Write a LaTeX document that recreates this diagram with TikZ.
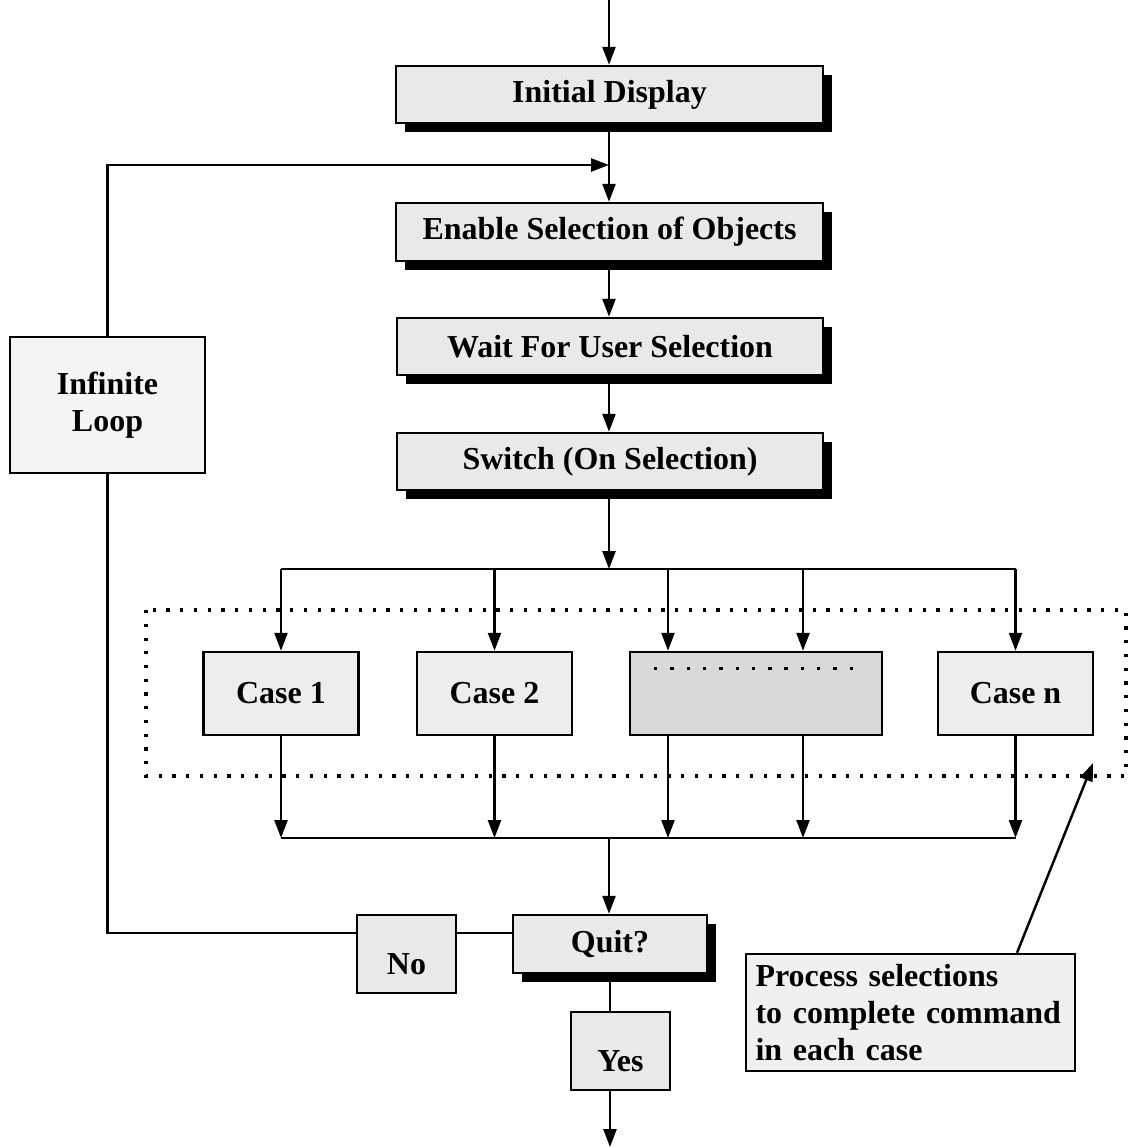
\documentclass[tikz,border=0pt]{standalone}
\usepackage{fontspec}
\setmainfont{Liberation Serif}
\usetikzlibrary{arrows.meta,shadows}

\begin{document}
\begin{tikzpicture}[x=0.02cm, y=-0.02cm,
  line width=1.4pt,
  txt/.style={font=\fontsize{18.2}{21.2}\selectfont\bfseries},
  box/.style={draw, line width=1.4pt, fill=gray!17, inner sep=0pt, align=center, txt},
  shbox/.style={box, drop shadow={shadow xshift=0.18cm, shadow yshift=-0.18cm, fill=black, opacity=1}},
  casebox/.style={box, fill=gray!14, minimum width=3.1cm, minimum height=1.66cm},
  arr/.style={-{Triangle[length=0.36cm, width=0.26cm]}},
  dotline/.style={line width=0.065cm, dash pattern=on 0.065cm off 0.21cm}
]
\useasboundingbox (0,0) rectangle (1129,1148);

% main column
\node[shbox, minimum width=8.54cm, minimum height=1.14cm] (init)   at (609.5,94.5) {Initial Display};
\node[shbox, minimum width=8.54cm, minimum height=1.16cm] (enable) at (609.5,232)  {Enable Selection of Objects};
\node[shbox, minimum width=8.52cm, minimum height=1.14cm] (wait)   at (610,346.5)  {Wait For User Selection};
\node[shbox, minimum width=8.52cm, minimum height=1.14cm] (switch) at (610,461.5)  {Switch (On Selection)};

% loop label
\node[box, fill=gray!9, minimum width=3.9cm, minimum height=2.72cm] (loop) at (107.5,405) {Infinite\\Loop};

% selection cases
\node[casebox] (case1) at (281,693.5)   {Case 1};
\node[casebox] (case2) at (494.5,693.5) {Case 2};
\node[casebox, fill=gray!30, minimum width=5.04cm] (more) at (756,693.5) {};
\node[casebox] (casen) at (1015.5,693.5) {Case n};
\foreach \i in {0,...,12}
  \fill (654+\i*16.3,667) rectangle ++(3.4,3.4);

% region holding the cases
\draw[dotline] (146,610) rectangle (1126,776);

% quit decision
\node[shbox, minimum width=3.88cm, minimum height=1.16cm] (quit) at (610,944) {Quit?};
\node[box, minimum width=1.98cm, minimum height=1.56cm] (no)  at (406.5,954) {\raisebox{-0.2cm}[\height][\depth]{No}};
\node[box, minimum width=1.98cm, minimum height=1.56cm] (yes) at (620.5,1051) {\raisebox{-0.2cm}[\height][\depth]{Yes}};

% note
\node[box, fill=gray!12, minimum width=6.58cm, minimum height=2.34cm, align=left, text width=6.2cm] (note) at (910.5,1012.5)
  {Process selections\\to complete command\\in each case};

% junction points
\coordinate (entry) at (609,0);
\coordinate (back)  at (609,165);
\coordinate (split) at (609,569);
\coordinate (merge) at (609,838);
\coordinate (exit)  at (610,1147);
\coordinate (tipnote) at (1093,763);

% flow
\draw[arr] (entry) -- (init.north -| entry);
\draw[arr] (init.south -| entry) -- (enable.north -| entry);
\draw[arr] (enable.south -| entry) -- (wait.north -| entry);
\draw[arr] (wait.south -| entry) -- (switch.north -| entry);
\draw[arr] (switch.south -| entry) -- (split);

% loop back
\draw[arr] (loop.north) -- (loop.north |- back) -- (back);

% fan out
\draw (split -| case1) -- (split -| casen);
\draw[arr] (split -| case1) -- (case1.north);
\draw[arr] (split -| case2) -- (case2.north);
\draw[arr] (split -| 668,0) -- (668,0 |- more.north);
\draw[arr] (split -| 803,0) -- (803,0 |- more.north);
\draw[arr] (split -| casen) -- (casen.north);

% fan in
\draw[arr] (case1.south) -- (merge -| case1);
\draw[arr] (case2.south) -- (merge -| case2);
\draw[arr] (668,0 |- more.south) -- (merge -| 668,0);
\draw[arr] (803,0 |- more.south) -- (merge -| 803,0);
\draw[arr] (casen.south) -- (merge -| casen);
\draw (merge -| case1) -- (merge -| casen);
\draw[arr] (merge) -- (quit.north -| merge);

% quit branches
\draw (quit.west |- 0,933) -- (no.east |- 0,933);
\draw (no.west |- 0,933) -- (loop.south |- 0,933) -- (loop.south);
\draw (quit.south -| exit) -- (yes.north -| exit);
\draw[arr] (yes.south -| exit) -- (exit);

% note pointer
\draw[arr] (note.north -| 1017,0) -- (tipnote);
\end{tikzpicture}
\end{document}
